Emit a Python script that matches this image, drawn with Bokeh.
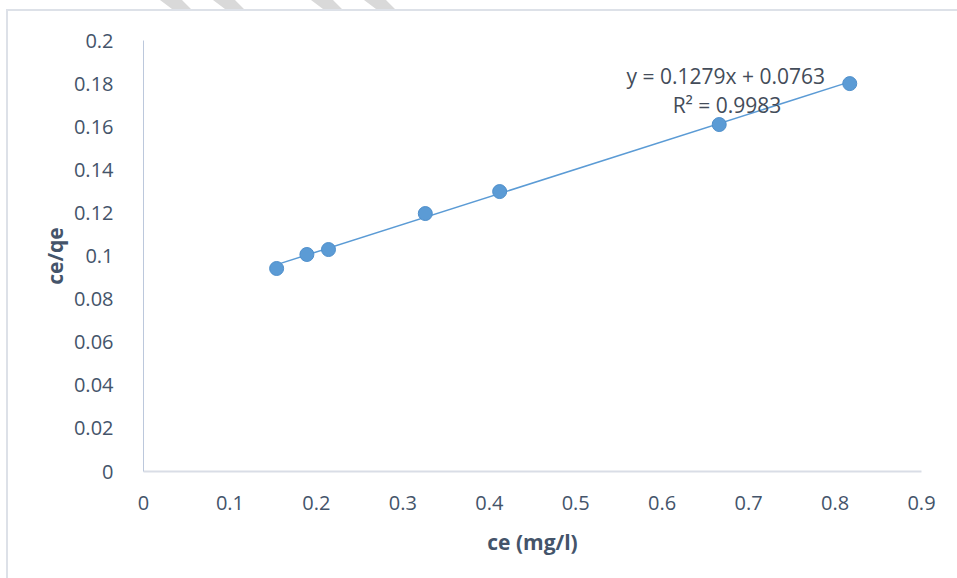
from bokeh.plotting import figure
from bokeh.models import FixedTicker, Label, InlineStyleSheet
from bokeh.embed import file_html
from bokeh.resources import INLINE

# Langmuir linear plot: ce/qe against ce
ce = [0.154, 0.189, 0.214, 0.326, 0.412, 0.666, 0.817]
ce_over_qe = [0.0942, 0.1007, 0.1030, 0.1197, 0.1299, 0.1610, 0.1800]

# linear fit reported on the chart
slope = 0.1279
intercept = 0.0763
r_squared = 0.9983

x_ticks = [0, 0.1, 0.2, 0.3, 0.4, 0.5, 0.6, 0.7, 0.8, 0.9]
x_tick_labels = ["0", "0.1", "0.2", "0.3", "0.4", "0.5", "0.6", "0.7", "0.8", "0.9"]
y_ticks = [0, 0.02, 0.04, 0.06, 0.08, 0.1, 0.12, 0.14, 0.16, 0.18, 0.2]
y_tick_labels = ["0", "0.02", "0.04", "0.06", "0.08", "0.1", "0.12", "0.14", "0.16", "0.18", "0.2"]

FONT = "Open Sans"
TEXT = "#44546a"
BLUE = "#5b9bd5"

# page frame: light border at top/left plus faint diagonal strokes along the top edge
frame_css = InlineStyleSheet(css="""
:host { position: relative; }
:host::after {
  content: ""; position: absolute; left: 6px; top: 9px; right: -20px; bottom: -20px;
  border-top: 2px solid #dde1e8; border-left: 2px solid #dde1e8;
  pointer-events: none; z-index: 5;
}
:host::before {
  content: ""; position: absolute; left: 160px; top: 0; width: 240px; height: 9px;
  background: #d9d9d9; pointer-events: none; z-index: 5;
  clip-path: polygon(0px 0px, 12px 9px, 31px 9px, 22px 0px,
                     53px 0px, 65px 9px, 84px 9px, 75px 0px,
                     151px 0px, 163px 9px, 182px 9px, 173px 0px,
                     204px 0px, 216px 9px, 235px 9px, 226px 0px);
}
""")

p = figure(width=957, height=578, x_range=(0, 0.9), y_range=(0, 0.2),
           min_border_left=143, min_border_right=36,
           min_border_top=40, min_border_bottom=107,
           output_backend="svg", toolbar_location=None)
p.stylesheets = [frame_css]
p.outline_line_color = None
p.grid.grid_line_color = None
p.background_fill_color = "white"
p.border_fill_color = "white"

# axes
p.xaxis.ticker = FixedTicker(ticks=x_ticks)
p.xaxis.major_label_overrides = dict(zip(x_ticks, x_tick_labels))
p.yaxis.ticker = FixedTicker(ticks=y_ticks)
p.yaxis.major_label_overrides = dict(zip(y_ticks, y_tick_labels))
for ax in (p.xaxis, p.yaxis):
    ax.major_tick_line_color = None
    ax.minor_tick_line_color = None
    ax.major_label_text_font = FONT
    ax.major_label_text_font_size = "20px"
    ax.major_label_text_color = TEXT
    ax.axis_label_text_font = FONT
    ax.axis_label_text_font_size = "21px"
    ax.axis_label_text_font_style = "bold"
    ax.axis_label_text_color = TEXT
p.xaxis.axis_line_color = "#d9dde6"
p.xaxis.axis_line_width = 2
p.yaxis.axis_line_color = "#bcc8dc"
p.xaxis.major_label_standoff = 18
p.yaxis.major_label_standoff = 24
p.xaxis.axis_label = "ce (mg/l)"
p.yaxis.axis_label = "ce/qe"
p.xaxis.axis_label_standoff = 15
p.yaxis.axis_label_standoff = 2

# fitted line over the range of the data
x_fit = [min(ce), max(ce)]
y_fit = [slope * x + intercept for x in x_fit]
p.line(x_fit, y_fit, line_color=BLUE, line_width=1.5)

# observations
p.scatter(ce, ce_over_qe, size=14, fill_color=BLUE, line_color="#4f8fcb", line_width=1)

# regression annotation
eq = f"y = {slope}x + {intercept}"
r2 = f"R² = {r_squared}"
p.add_layout(Label(x=0.6735, y=0.1833, text=eq, text_align="center", text_baseline="middle",
                   text_font=FONT, text_font_size="21px", text_color="#434c59"))
p.add_layout(Label(x=0.675, y=0.1703, text=r2, text_align="center", text_baseline="middle",
                   text_font=FONT, text_font_size="21px", text_color="#434c59"))

open("out.html", "w").write(file_html(p, INLINE))
